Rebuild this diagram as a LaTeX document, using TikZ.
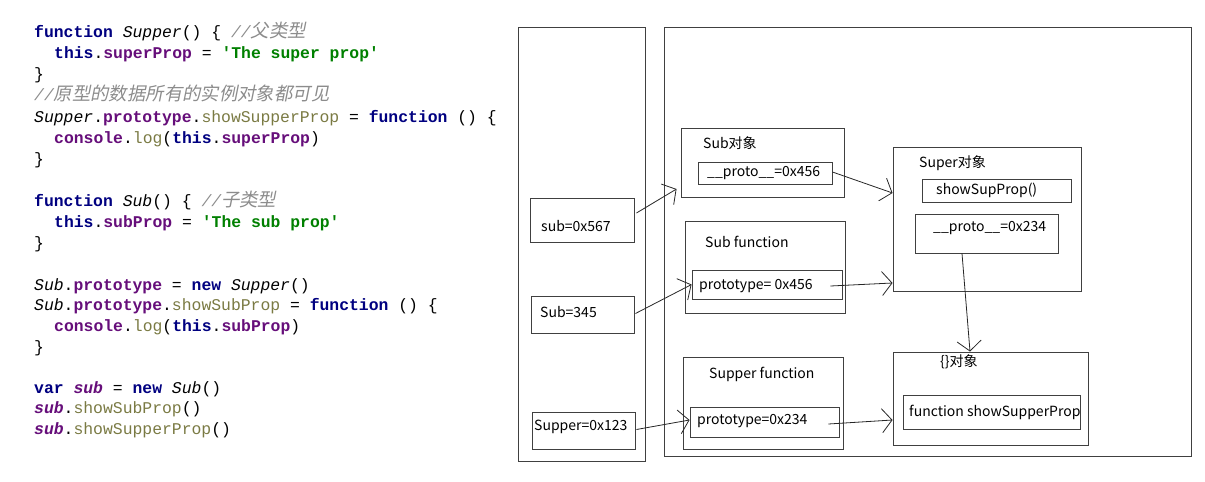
\documentclass[tikz,border=0pt]{standalone}
\usepackage{fontspec}
\setmonofont{Liberation Mono}
\newfontfamily\dgf{Noto Sans CJK SC}
\newfontfamily\cjkit[FakeSlant=0.2,Scale=1.12]{Noto Sans CJK SC}
\usetikzlibrary{arrows.meta,calc}
\definecolor{jkwc}{HTML}{000080}
\definecolor{jfldc}{HTML}{660E7A}
\definecolor{jstrc}{HTML}{008000}
\definecolor{jmthc}{HTML}{7A7A43}
\definecolor{jcmtc}{HTML}{8C8C8C}
\definecolor{linec}{HTML}{404040}
\newcommand\jkw[1]{\textcolor{jkwc}{\bfseries #1}}
\newcommand\jfld[1]{\textcolor{jfldc}{\bfseries #1}}
\newcommand\jstr[1]{\textcolor{jstrc}{\bfseries #1}}
\newcommand\jmth[1]{\textcolor{jmthc}{#1}}
\newcommand\jcmt[1]{\textcolor{jcmtc}{\itshape #1}}
\newcommand\jcls[1]{{\itshape #1}}
\newcommand\jvar[1]{\textcolor{jfldc}{\bfseries\itshape #1}}
\tikzset{
  codeline/.style={anchor=base west, inner sep=0pt, font=\ttfamily\fontsize{16.4}{20}\selectfont},
  box/.style={draw=linec, line width=0.9pt, rectangle, inner sep=0pt},
  lbl/.style={anchor=west, inner sep=0pt, font=\dgf\fontsize{14}{16}\selectfont},
  arr/.style={draw=black!85, line width=0.8pt, -{Straight Barb[length=10pt,width=24pt,line width=0.8pt]}}
}
\begin{document}
\begin{tikzpicture}[x=1pt,y=-1pt]
\useasboundingbox (0,0) rectangle (1205,482);
% ---------- code ----------
\node[codeline] (c1) at (34,37) {\jkw{function} \jcls{Supper}() \{ \jcmt{//{\cjkit 父类型}}};
\node[codeline] (c2) at (54,58) {\jkw{this}.\jfld{superProp} = \jstr{'The super prop'}};
\node[codeline] (c3) at (34,79) {\}};
\node[codeline] (c4) at (34,100) {\jcmt{//{\cjkit 原型的数据所有的实例对象都可见}}};
\node[codeline] (c5) at (34,122) {\jcls{Supper}.\jfld{prototype}.\jmth{showSupperProp} = \jkw{function} () \{};
\node[codeline] (c6) at (54,143) {\jfld{console}.\jmth{log}(\jkw{this}.\jfld{superProp})};
\node[codeline] (c7) at (34,164) {\}};
\node[codeline] (c8) at (34,206) {\jkw{function} \jcls{Sub}() \{ \jcmt{//{\cjkit 子类型}}};
\node[codeline] (c9) at (54,227) {\jkw{this}.\jfld{subProp} = \jstr{'The sub prop'}};
\node[codeline] (c10) at (34,248) {\}};
\node[codeline] (c11) at (34,290) {\jcls{Sub}.\jfld{prototype} = \jkw{new} \jcls{Supper}()};
\node[codeline] (c12) at (34,310) {\jcls{Sub}.\jfld{prototype}.\jmth{showSubProp} = \jkw{function} () \{};
\node[codeline] (c13) at (54,331) {\jfld{console}.\jmth{log}(\jkw{this}.\jfld{subProp})};
\node[codeline] (c14) at (34,352) {\}};
\node[codeline] (c15) at (34,393) {\jkw{var} \jvar{sub} = \jkw{new} \jcls{Sub}()};
\node[codeline] (c16) at (34,413) {\jvar{sub}.\jmth{showSubProp}()};
\node[codeline] (c17) at (34,434) {\jvar{sub}.\jmth{showSupperProp}()};
% ---------- frames ----------
\node[box, minimum width=127pt, minimum height=434pt] (stack) at (581.5,244) {};
\node[box, minimum width=527pt, minimum height=429pt] (heap) at (927.5,241.5) {};
% stack variables
\node[box, minimum width=104pt, minimum height=44pt] (bsub) at (582,220) {};
\node[box, minimum width=103pt, minimum height=37pt] (bSub) at (582.5,314.5) {};
\node[box, minimum width=103pt, minimum height=37pt] (bSup) at (583.5,430.5) {};
\node[lbl] (tsub) at (541,226) {sub=0x567};
\node[lbl] (tSub) at (540,312) {Sub=345};
\node[lbl] (tSup) at (534,427) {Supper=0x123};
% Sub object
\node[box, minimum width=163pt, minimum height=69pt] (subobj) at (762.5,162.5) {};
\node[box, minimum width=134pt, minimum height=22pt] (proto456) at (765,173) {};
\node[lbl] (tsubobj) at (703,143) {Sub对象};
\node[lbl] (tproto456) at (707,173) {\_\_proto\_\_=0x456};
% Sub function
\node[box, minimum width=160pt, minimum height=92pt] (subfn) at (765,267) {};
\node[box, minimum width=150pt, minimum height=29pt] (pt456) at (767,284.5) {};
\node[lbl] (tsubfn) at (705,242) {Sub function};
\node[lbl] (tpt456) at (699,286) {prototype= 0x456};
% Supper function
\node[box, minimum width=160pt, minimum height=92pt] (supfn) at (763,403) {};
\node[box, minimum width=149pt, minimum height=30pt] (pt234) at (764.5,422) {};
\node[lbl] (tsupfn) at (709,374) {Supper function};
\node[lbl] (tpt234) at (697,421) {prototype=0x234};
% Super object
\node[box, minimum width=188pt, minimum height=144pt] (superobj) at (987,219) {};
\node[box, minimum width=149pt, minimum height=23pt] (showsup) at (996.5,190.5) {};
\node[box, minimum width=143pt, minimum height=39pt] (proto234) at (986.5,233.5) {};
\node[lbl] (tsuperobj) at (919,163) {Super对象};
\node[lbl] (tshowsup) at (936,190) {showSupProp()};
\node[lbl] (tproto234) at (933,228) {\_\_proto\_\_=0x234};
% {} object
\node[box, minimum width=195pt, minimum height=93pt] (emptyobj) at (990.5,398.5) {};
\node[box, minimum width=177pt, minimum height=34pt] (fnshow) at (991.5,412) {};
\node[lbl] (tempty) at (940,362) {\{\}对象};
\node[lbl] (tfnshow) at (909,412) {function showSupperProp};
% ---------- arrows ----------
\draw[arr] ($(bsub.east)+(2,-7)$) -- ($(subobj.west)+(-4,26.5)$);
\draw[arr] ($(bSub.east)+(1,-1)$) -- (pt456.west);
\draw[arr] ($(bSup.east)+(1,-1)$) -- ($(pt234.west)+(0,-2)$);
\draw[arr] ($(proto456.east)+(0,-1)$) -- ($(superobj.west)+(0,-26)$);
\draw[arr] ($(pt456.east)+(-12,1.5)$) -- ($(superobj.west)+(0,64)$);
\draw[arr] ($(pt234.east)+(-11,2)$) -- ($(emptyobj.west)+(0,21.5)$);
\draw[arr] ($(proto234.south)+(-24.5,0)$) -- ($(emptyobj.north)+(-20.5,0)$);
\end{tikzpicture}
\end{document}
